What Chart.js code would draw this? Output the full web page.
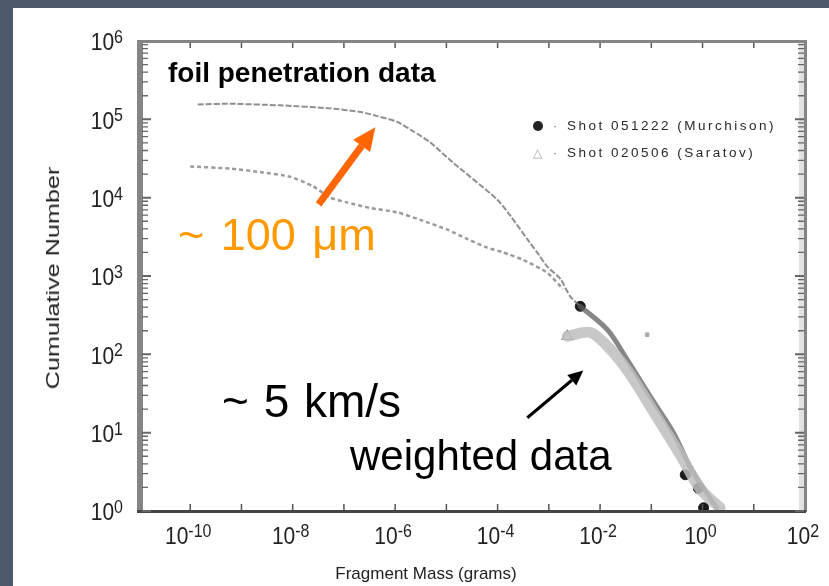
<!DOCTYPE html>
<html>
<head>
<meta charset="utf-8">
<script src="https://cdn.jsdelivr.net/npm/chart.js@4.4.1/dist/chart.umd.min.js"></script>
<style>
  html, body { margin: 0; padding: 0; background: #4f596c; }
  #page { position: relative; width: 829px; height: 586px; overflow: hidden; }
  #panel { position: absolute; left: 13px; top: 8px; right: 0; bottom: 0; background: #fff; }
  #chart { position: absolute; left: 0; top: 0; }
  .note { position: absolute; font-family: Arial, "Liberation Sans", sans-serif; white-space: nowrap; line-height: 1; }
  .legend { position: absolute; left: 533px; font-family: Arial, "Liberation Sans", sans-serif; font-size: 13.5px; letter-spacing: 2.5px; color: #2a2a2a; white-space: nowrap; line-height: 1; }
  .dot { display: inline-block; width: 10px; height: 10px; border-radius: 50%; background: #222; vertical-align: middle; }
  .tri { display: inline-block; width: 10px; color: #aaa; font-size: 12px; vertical-align: middle; letter-spacing: 0; }
  .sep { display: inline-block; width: 24px; text-align: center; color: #777; letter-spacing: 0; }
</style>
</head>
<body>
<div id="page">
  <div id="panel"></div>
  <canvas id="chart" width="829" height="586"></canvas>

  <div class="note" style="left:168px; top:59px; font-size:28px; font-weight:bold; color:#000;">foil penetration data</div>
  <div class="note" style="left:178px; top:212px; font-size:45px; word-spacing:4px; color:#ff9900;">~ 100 &mu;m</div>
  <div class="note" style="left:222px; top:378px; font-size:46px; word-spacing:2px; color:#000;">~ 5 km/s</div>
  <div class="note" style="left:350px; top:435px; font-size:42px; color:#000;">weighted data</div>

  <div class="legend" style="top:119px;"><span class="dot"></span><span class="sep">&middot;</span>Shot 051222 (Murchison)</div>
  <div class="legend" style="top:146px;"><span class="tri">&#9651;</span><span class="sep">&middot;</span>Shot 020506 (Saratov)</div>

  <div class="note" style="left:426px; top:573px; font-size:17px; color:#222; transform: translate(-50%, -50%);">Fragment Mass (grams)</div>
  <div class="note" style="left:53px; top:278px; font-size:18px; color:#222; transform: translate(-50%, -50%) rotate(-90deg) scale(1.4, 1);">Cumulative Number</div>
</div>

<script>
// Murchison shot, raw foil counts
const murchisonMass = [1.4e-10, 6.0e-10, 5.6e-9, 5.4e-8, 2.3e-7, 4.5e-7, 1.1e-6, 2.2e-6, 4.8e-6, 1.35e-5, 9.8e-5, 1.8e-4, 3.8e-4, 5.9e-4, 9.3e-4, 1.7e-3, 2.6e-3, 4.1e-3];
const murchisonCount = [1.55e5, 1.58e5, 1.51e5, 1.38e5, 1.23e5, 1.1e5, 9.3e4, 7.1e4, 5.1e4, 2.8e4, 9.5e3, 5.8e3, 2.95e3, 2.0e3, 1.32e3, 910, 550, 410];

// Saratov shot, raw foil counts
const saratovMass = [1.0e-10, 6.0e-10, 2.6e-9, 8.9e-9, 2.5e-8, 5.4e-8, 1.15e-7, 3.2e-7, 1.1e-6, 3.1e-6, 1.05e-5, 2.6e-5, 6.3e-5, 1.3e-4, 3.2e-4, 9.3e-4, 1.9e-3];
const saratovCount = [2.5e4, 2.35e4, 2.1e4, 1.85e4, 1.4e4, 1.0e4, 8.7e3, 7.4e3, 6.5e3, 5.2e3, 3.9e3, 2.95e3, 2.3e3, 2.0e3, 1.6e3, 1.1e3, 680];

// weighted data (large fragments)
const murchisonWeightedMass = [4.1e-3, 1.4e-2, 3.4e-2, 9.5e-2, 2.7e-1, 5.8e-1, 1.2, 1.9];
const murchisonWeightedCount = [410, 205, 85, 29, 10, 3.6, 1.7, 1.1];
const saratovWeightedMass = [2.3e-3, 6.5e-3, 1.6e-2, 3.9e-2, 0.12, 0.37, 0.91, 2.2];
const saratovWeightedCount = [170, 190, 115, 55, 17, 5.2, 1.9, 1.1];

// individual marker points
const murchisonDotMass = [4.1e-3, 0.46, 0.83, 1.05];
const murchisonDotCount = [410, 2.9, 1.95, 1.1];
const saratovTriMass = [2.3e-3];
const saratovTriCount = [170];
const strayMass = [8.3e-2];
const strayCount = [178];

// axis decades
const xDecades = [-11, -10, -9, -8, -7, -6, -5, -4, -3, -2, -1, 0, 1, 2];
const xLabelDecades = [-10, -8, -6, -4, -2, 0, 2];
const yDecades = [0, 1, 2, 3, 4, 5, 6];

// annotation arrows, in data space [mass, count]
const orangeArrow = [[3.2e-8, 8.2e3], [4.1e-7, 7.9e4]];
const blackArrow = [[3.8e-4, 15.5], [4.7e-3, 62]];

const pairs = (xs, ys) => xs.map((x, i) => ({ x, y: ys[i] }));

const pow10 = (e) => Math.pow(10, e);

const drawPowerLabel = (ctx, exp, x, y, align) => {
    const base = '10';
    const sup = String(exp);
    ctx.save();
    ctx.font = '21px Arial, "Liberation Sans", sans-serif';
    const wb = ctx.measureText(base).width;
    ctx.font = '16px Arial, "Liberation Sans", sans-serif';
    const ws = ctx.measureText(sup).width;
    const total = wb + ws;
    let left = x;
    if (align === 'right') left = x - total;
    if (align === 'center') left = x - total / 2;
    ctx.translate(left, y);
    ctx.scale(1, 1.12);
    ctx.fillStyle = '#222';
    ctx.textAlign = 'left';
    ctx.textBaseline = 'middle';
    ctx.font = '21px Arial, "Liberation Sans", sans-serif';
    ctx.fillText(base, 0, 0);
    ctx.textBaseline = 'alphabetic';
    ctx.font = '16px Arial, "Liberation Sans", sans-serif';
    ctx.fillText(sup, wb, -1);
    ctx.restore();
};

const drawArrow = (ctx, p0, p1, color, width, headLen, headWidth) => {
    const ang = Math.atan2(p1.y - p0.y, p1.x - p0.x);
    const bx = p1.x - headLen * Math.cos(ang);
    const by = p1.y - headLen * Math.sin(ang);
    ctx.save();
    ctx.strokeStyle = color;
    ctx.fillStyle = color;
    ctx.lineWidth = width;
    ctx.beginPath();
    ctx.moveTo(p0.x, p0.y);
    ctx.lineTo(bx, by);
    ctx.stroke();
    ctx.beginPath();
    ctx.moveTo(p1.x, p1.y);
    ctx.lineTo(bx + headWidth / 2 * Math.sin(ang), by - headWidth / 2 * Math.cos(ang));
    ctx.lineTo(bx - headWidth / 2 * Math.sin(ang), by + headWidth / 2 * Math.cos(ang));
    ctx.closePath();
    ctx.fill();
    ctx.restore();
};

// frame, inward ticks, power-of-ten labels and arrows
const framePlugin = {
    id: 'frame',
    afterDraw(chart) {
        const { ctx, chartArea: a, scales } = chart;
        const xs = scales.x, ys = scales.y;

        ctx.save();
        // light band inside right edge
        ctx.fillStyle = '#e2e2e2';
        ctx.fillRect(a.right - 6, a.top, 5, a.bottom - a.top);
        // frame lines
        ctx.fillStyle = '#858585';
        ctx.fillRect(a.left - 2, a.top - 1, a.right - a.left + 3, 3);
        ctx.fillRect(a.left - 2, a.top, 6, a.bottom - a.top);
        ctx.fillRect(a.right - 1, a.top - 1, 3, a.bottom - a.top + 2);
        ctx.fillStyle = '#454545';
        ctx.fillRect(a.left - 2, a.bottom - 1, a.right - a.left + 3, 3);

        // x ticks, top and bottom
        ctx.strokeStyle = '#555';
        ctx.lineWidth = 1.5;
        xDecades.slice(1, -1).forEach(e => {
            const px = xs.getPixelForValue(pow10(e));
            ctx.beginPath();
            ctx.moveTo(px, a.bottom - 1);
            ctx.lineTo(px, a.bottom - 7);
            ctx.moveTo(px, a.top + 2);
            ctx.lineTo(px, a.top + 7);
            ctx.stroke();
        });

        // y ticks, left and right, with minor ones
        ctx.strokeStyle = '#666';
        yDecades.slice(0, -1).forEach(e => {
            for (let k = 1; k < 10; k++) {
                const py = ys.getPixelForValue(k * pow10(e));
                const len = k === 1 ? 9 : 6;
                ctx.lineWidth = k === 1 ? 2 : 1.3;
                ctx.beginPath();
                ctx.moveTo(a.left + 3, py);
                ctx.lineTo(a.left + 3 + len, py);
                ctx.moveTo(a.right - 1, py);
                ctx.lineTo(a.right - 1 - len, py);
                ctx.stroke();
            }
        });
        ctx.restore();

        // tick labels
        yDecades.forEach(e => {
            drawPowerLabel(ctx, e, 123, ys.getPixelForValue(pow10(e)) + 3, 'right');
        });
        xLabelDecades.forEach(e => {
            drawPowerLabel(ctx, e, xs.getPixelForValue(pow10(e)) - 2, 538, 'center');
        });

        // arrows
        const toPx = p => ({ x: xs.getPixelForValue(p[0]), y: ys.getPixelForValue(p[1]) });
        drawArrow(ctx, toPx(orangeArrow[0]), toPx(orangeArrow[1]), '#ff6600', 7, 23, 21);
        drawArrow(ctx, toPx(blackArrow[0]), toPx(blackArrow[1]), '#000', 3, 15, 14);
    }
};

const ctx = document.getElementById('chart').getContext('2d');
new Chart(ctx, {
    type: 'line',
    data: {
        datasets: [
            {
                label: 'Saratov weighted',
                data: pairs(saratovWeightedMass, saratovWeightedCount),
                borderColor: 'rgba(190,190,190,0.85)',
                borderWidth: 11,
                borderCapStyle: 'round',
                pointRadius: 0,
                tension: 0.3
            },
            {
                label: 'Murchison weighted',
                data: pairs(murchisonWeightedMass, murchisonWeightedCount),
                borderColor: 'rgba(95,95,95,0.75)',
                borderWidth: 5,
                borderCapStyle: 'round',
                pointRadius: 0,
                tension: 0.3
            },
            {
                label: 'Saratov raw',
                data: pairs(saratovMass, saratovCount),
                borderColor: 'rgba(130,130,130,0.8)',
                borderWidth: 2.5,
                borderDash: [4, 3],
                pointRadius: 0,
                tension: 0.2
            },
            {
                label: 'Murchison raw',
                data: pairs(murchisonMass, murchisonCount),
                borderColor: 'rgba(115,115,115,0.8)',
                borderWidth: 2,
                borderDash: [6, 2],
                pointRadius: 0,
                tension: 0.2
            },
            {
                label: 'Shot 051222 (Murchison)',
                data: pairs(murchisonDotMass, murchisonDotCount),
                showLine: false,
                pointRadius: 5,
                pointBackgroundColor: '#1a1a1a',
                pointBorderColor: '#1a1a1a'
            },
            {
                label: 'Shot 020506 (Saratov)',
                data: pairs(saratovTriMass, saratovTriCount),
                showLine: false,
                pointStyle: 'triangle',
                pointRadius: 6,
                pointBackgroundColor: '#fff',
                pointBorderColor: '#999',
                pointBorderWidth: 1.5
            },
            {
                label: 'stray',
                data: pairs(strayMass, strayCount),
                showLine: false,
                pointStyle: 'rect',
                pointRadius: 2.5,
                pointBackgroundColor: '#aaa',
                pointBorderColor: '#aaa'
            }
        ]
    },
    options: {
        responsive: false,
        animation: false,
        layout: { padding: { left: 139, top: 41, right: 24, bottom: 75 } },
        plugins: {
            legend: { display: false },
            tooltip: { enabled: false }
        },
        scales: {
            x: {
                type: 'logarithmic',
                min: pow10(xDecades[0]),
                max: pow10(xDecades[xDecades.length - 1]),
                ticks: { display: false },
                grid: { display: false, drawTicks: false },
                border: { display: false }
            },
            y: {
                type: 'logarithmic',
                min: pow10(yDecades[0]),
                max: pow10(yDecades[yDecades.length - 1]),
                ticks: { display: false },
                grid: { display: false, drawTicks: false },
                border: { display: false }
            }
        }
    },
    plugins: [framePlugin]
});
</script>
</body>
</html>
